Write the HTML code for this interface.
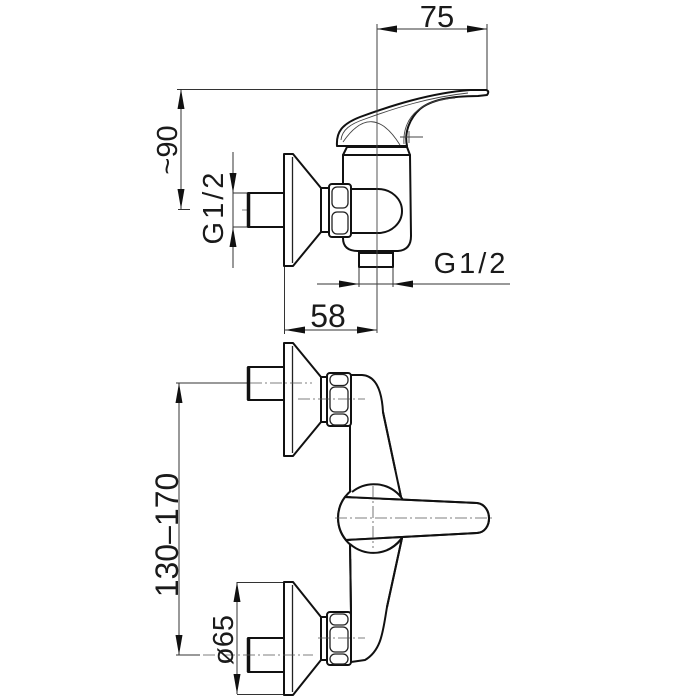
<!DOCTYPE html>
<html><head><meta charset="utf-8"><style>
html,body{margin:0;padding:0;background:#fff;}
svg{display:block;}
text{font-family:"Liberation Sans",sans-serif;fill:#1a1a1a;}
</style></head><body>
<svg width="700" height="700" viewBox="0 0 700 700" xmlns="http://www.w3.org/2000/svg">
<rect width="700" height="700" fill="#fff"/>

<!-- ===== TOP VIEW ===== -->
<g stroke="#333" stroke-width="1" fill="none">
  <!-- 75 dim -->
  <line x1="377" y1="24" x2="377" y2="333"/>
  <line x1="487" y1="24" x2="487" y2="95"/>
  <line x1="377" y1="29" x2="487" y2="29"/>
  <!-- ~90 -->
  <line x1="177" y1="89.5" x2="487" y2="89.5"/>
  <line x1="181" y1="89" x2="181" y2="209"/>
  <line x1="178" y1="209.5" x2="190" y2="209.5"/>
  <!-- G1/2 left -->
  <line x1="233" y1="152" x2="233" y2="268"/>
  <line x1="233" y1="193" x2="248" y2="193"/>
  <line x1="233" y1="227" x2="248" y2="227"/>
  <!-- 58 -->
  <line x1="284.5" y1="266" x2="284.5" y2="334"/>
  <line x1="285" y1="330" x2="377" y2="330"/>
  <!-- G1/2 bottom -->
  <line x1="317" y1="284" x2="510" y2="284"/>
  <line x1="359" y1="267" x2="359" y2="287"/>
  <line x1="393" y1="267" x2="393" y2="287"/>
</g>
<g stroke="#555" stroke-width="0.8" fill="none" stroke-dasharray="12 3 2 3">
  <line x1="242" y1="210" x2="387" y2="210"/>
</g>
<g fill="#111">
  <polygon points="377,29 397,25.5 397,32.5"/>
  <polygon points="487,29 467,25.5 467,32.5"/>
  <polygon points="181,89 177.5,109 184.5,109"/>
  <polygon points="181,209 177.5,189 184.5,189"/>
  <polygon points="233,193 229.5,173 236.5,173"/>
  <polygon points="233,227 229.5,247 236.5,247"/>
  <polygon points="359,284 339,280.5 339,287.5"/>
  <polygon points="393,284 413,280.5 413,287.5"/>
  <polygon points="285,330 305,326.5 305,333.5"/>
  <polygon points="377,330 357,326.5 357,333.5"/>
</g>

<!-- body top view -->
<g stroke="#111" stroke-width="2" fill="#fff" stroke-linejoin="round">
  <path d="M343,155 L343,238 Q343,251 358,251 L398,251 Q411,250 411,236 L410,155 Z"/>
  <path d="M347,147 L343,155 L410,155 L407,147 Z"/>
  <rect x="359" y="251" width="34" height="16"/>
  <!-- connector D -->
  <path d="M351,189 L378,189 A24,22 0 0 1 378,233 L351,233 Z"/>
  <!-- stub -->
  <rect x="248" y="193" width="36" height="34"/>
  <!-- flange -->
  <path d="M284,154 L293,154 L321,188 L321,232 L293,266 L284,266 Z"/>
  <rect x="321" y="188" width="8" height="44"/>
  <!-- nut -->
  <rect x="329" y="184" width="22" height="53" rx="3"/>
  <!-- handle -->
  <path d="M337,146 C336,132 342,124 360,117 C390,106 430,93 470,90 L486,90 Q490,91 487,95 L478,96 C455,96 432,99 420,109 C410,118 404,132 407,146 Z"/>
</g>
<line x1="248.5" y1="193" x2="248.5" y2="227" stroke="#111" stroke-width="3.5"/>
<line x1="359" y1="252.5" x2="393" y2="252.5" stroke="#111" stroke-width="3"/>
<g stroke="#222" stroke-width="1.3" fill="none">
  <rect x="332" y="187" width="16" height="21" rx="5"/>
  <rect x="332" y="212" width="16" height="22" rx="5"/>
  <line x1="292.5" y1="157" x2="292.5" y2="263"/>
</g>
<g stroke="#444" stroke-width="0.9" fill="none">
  <path d="M343,142 Q372,100 400,145"/>
  <path d="M341,140 C342,130 350,124 365,119 C395,108 430,97 468,93"/>
  <path d="M404,144 C403,130 408,118 418,110 C428,102 440,99 455,98"/>
  <line x1="400" y1="137" x2="423" y2="137"/>
  <line x1="409" y1="131" x2="409" y2="143"/>
  <line x1="377" y1="24" x2="377" y2="333"/>
</g>

<!-- labels top -->
<text x="437" y="27" font-size="31" text-anchor="middle">75</text>
<text x="328" y="327" font-size="32" text-anchor="middle">58</text>
<text x="471" y="273" font-size="29" text-anchor="middle" letter-spacing="3">G1/2</text>
<text transform="translate(177,150) rotate(-90)" font-size="29" text-anchor="middle">~90</text>
<text transform="translate(223,207) rotate(-90)" font-size="29" text-anchor="middle" letter-spacing="3">G1/2</text>

<!-- ===== BOTTOM VIEW ===== -->
<g stroke="#333" stroke-width="1" fill="none">
  <line x1="176" y1="383" x2="250" y2="383"/>
  <line x1="176" y1="655" x2="200" y2="655"/>
  <line x1="179" y1="383" x2="179" y2="655"/>
  <line x1="237" y1="582" x2="237" y2="694"/>
  <line x1="237" y1="582.5" x2="284" y2="582.5"/>
  <line x1="237" y1="694.5" x2="284" y2="694.5"/>
</g>
<g fill="#111">
  <polygon points="179,383 175.5,403 182.5,403"/>
  <polygon points="179,655 175.5,635 182.5,635"/>
  <polygon points="237,582 233.5,602 240.5,602"/>
  <polygon points="237,694 233.5,674 240.5,674"/>
</g>

<g stroke="#111" stroke-width="2" fill="#fff" stroke-linejoin="round">
  <!-- arms -->
  <path d="M351,375 L362,375 Q381,376 383,412 L401,497 L350,497 L350,426 Z"/>
  <path d="M350,540 L402,538 L387,607 C383,630 382,650 365,660 L351,662 L351,612 Z"/>
  <circle cx="373" cy="518" r="35"/>
  <path d="M345,497 L477,503 C493,505 493,532 477,533 L346,540 A35,35 0 0 1 345,497 Z"/>
  <!-- upper unit -->
  <rect x="248" y="367" width="36" height="33"/>
  <path d="M284,343 L293,343 L321,377 L321,422 L293,456 L284,456 Z"/>
  <rect x="321" y="377" width="6" height="45"/>
  <rect x="327" y="373" width="24" height="53" rx="3"/>
  <!-- lower unit -->
  <rect x="248" y="638" width="36" height="34"/>
  <path d="M284,582 L293,582 L321,617 L321,660 L293,695 L284,695 Z"/>
  <rect x="321" y="617" width="6" height="43"/>
  <rect x="327" y="612" width="24" height="53" rx="3"/>
</g>
<!-- cover arm/circle seams -->
<g fill="#fff" stroke="none">
  <rect x="351.2" y="470" width="48" height="28"/>
  <rect x="351.2" y="539" width="36" height="20"/>
</g>
<g stroke="#111" stroke-width="2" fill="none">
  <path d="M350,492 L350,426"/>
  <path d="M383,412 L401,497"/>
  <path d="M350,544 L351,612"/>
  <path d="M402,538 L387,607"/>
  <path d="M352,492 A35,35 0 0 1 401,497"/>
  <path d="M350,544 A35,35 0 0 0 402,538"/>
  <path d="M345,497 L477,503 C493,505 493,532 477,533 L346,540"/>
</g>
<line x1="248.5" y1="367" x2="248.5" y2="400" stroke="#111" stroke-width="3.5"/>
<line x1="248.5" y1="638" x2="248.5" y2="672" stroke="#111" stroke-width="3.5"/>
<g stroke="#222" stroke-width="1.3" fill="none">
  <rect x="330" y="374.5" width="18" height="11" rx="5"/>
  <rect x="330" y="387" width="18" height="25" rx="5"/>
  <rect x="330" y="414" width="18" height="11" rx="5"/>
  <rect x="330" y="614" width="18" height="11" rx="5"/>
  <rect x="330" y="627" width="18" height="25" rx="5"/>
  <rect x="330" y="654" width="18" height="10" rx="5"/>
  <line x1="292.5" y1="346" x2="292.5" y2="453"/>
  <line x1="292.5" y1="585" x2="292.5" y2="692"/>
</g>
<g stroke="#555" stroke-width="0.8" fill="none" stroke-dasharray="12 3 2 3">
  <line x1="250" y1="383" x2="312" y2="383"/>
  <line x1="298" y1="399" x2="365" y2="399"/>
  <line x1="203" y1="655" x2="313" y2="655"/>
  <line x1="318" y1="638" x2="365" y2="638"/>
  <line x1="335" y1="518" x2="493" y2="518"/>
  <line x1="373" y1="486" x2="373" y2="548"/>
</g>

<!-- labels bottom -->
<text transform="translate(178,535) rotate(-90)" font-size="32" text-anchor="middle">130–170</text>
<text transform="translate(233,640) rotate(-90)" font-size="29" text-anchor="middle">ø65</text>
</svg>
</body></html>
